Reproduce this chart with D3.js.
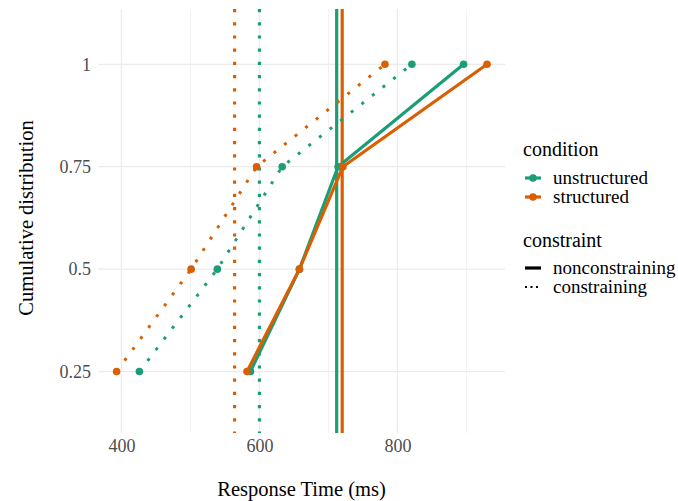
<!DOCTYPE html>
<html>
<head>
<meta charset="utf-8">
<script src="https://cdn.jsdelivr.net/npm/d3@7"></script>
<style>
  body { margin: 0; background: #fff; }
</style>
</head>
<body>
<div id="chart"></div>
<script>
// cumulative quantiles on the y axis
const quantiles = [0.25, 0.5, 0.75, 1];
const conditions = ["unstructured", "structured"];
const constraints = ["nonconstraining", "constraining"];

// response time (ms) at each quantile
const unstructuredNonconstraining = [587, 658, 714, 896];
const structuredNonconstraining = [582, 658, 721, 930];
const unstructuredConstraining = [426, 539, 633, 821];
const structuredConstraining = [393, 501, 596, 782];

// mean response time per group (vertical lines)
const meanUnstructured = [712, 600];   // nonconstraining, constraining
const meanStructured = [720, 564];

const xTicks = [400, 600, 800];
const xMinor = [500, 700, 900];
const yTicks = [0.25, 0.5, 0.75, 1];
const yTickLabels = ["0.25", "0.5", "0.75", "1"];

const colors = { unstructured: "#1B9E77", structured: "#D95F02" };
const serif = '"Liberation Serif", "DejaVu Serif", serif';

const width = 678, height = 501;
const panel = { left: 98, right: 505, top: 9, bottom: 433 };

const svg = d3.select("#chart")
    .append("svg")
    .attr("width", width)
    .attr("height", height);

const x = d3.scaleLinear().domain([366, 956]).range([panel.left, panel.right]);
const y = d3.scaleLinear().domain([0.1, 1.135]).range([panel.bottom, panel.top]);

// grid
svg.append("g").selectAll("line")
    .data(xMinor)
    .enter().append("line")
    .attr("x1", d => x(d)).attr("x2", d => x(d))
    .attr("y1", panel.top).attr("y2", panel.bottom)
    .attr("stroke", "#f0f0f0").attr("stroke-width", 1);

svg.append("g").selectAll("line")
    .data(xTicks)
    .enter().append("line")
    .attr("x1", d => x(d)).attr("x2", d => x(d))
    .attr("y1", panel.top).attr("y2", panel.bottom)
    .attr("stroke", "#ebebeb").attr("stroke-width", 1.2);

svg.append("g").selectAll("line")
    .data(yTicks)
    .enter().append("line")
    .attr("x1", panel.left).attr("x2", panel.right)
    .attr("y1", d => y(d)).attr("y2", d => y(d))
    .attr("stroke", "#ebebeb").attr("stroke-width", 1.2);

// axes labels
const xAxis = svg.append("g")
    .attr("transform", `translate(0, ${panel.bottom})`)
    .call(d3.axisBottom(x).tickValues(xTicks).tickSize(0).tickPadding(0));
xAxis.select(".domain").remove();
xAxis.selectAll("text")
    .attr("y", 19)
    .attr("dy", 0)
    .style("font-size", "18px")
    .style("font-family", serif)
    .attr("fill", "#4d4d4d");

const yAxis = svg.append("g")
    .attr("transform", `translate(${panel.left}, 0)`)
    .call(d3.axisLeft(y).tickValues(yTicks).tickFormat((d, i) => yTickLabels[i]).tickSize(0).tickPadding(0));
yAxis.select(".domain").remove();
yAxis.selectAll("text")
    .attr("x", -7)
    .style("font-size", "18px")
    .style("font-family", serif)
    .attr("fill", "#4d4d4d");

svg.append("text")
    .attr("x", (panel.left + panel.right) / 2)
    .attr("y", 496)
    .attr("text-anchor", "middle")
    .style("font-size", "20.5px")
    .style("font-family", serif)
    .attr("fill", "#000")
    .text("Response Time (ms)");

svg.append("text")
    .attr("transform", "rotate(-90)")
    .attr("x", -218)
    .attr("y", 33)
    .attr("text-anchor", "middle")
    .style("font-size", "20.5px")
    .style("font-family", serif)
    .attr("fill", "#000")
    .text("Cumulative distribution");

// series
const series = [
    { condition: "unstructured", constraint: "nonconstraining", values: unstructuredNonconstraining, mean: meanUnstructured[0] },
    { condition: "structured", constraint: "nonconstraining", values: structuredNonconstraining, mean: meanStructured[0] },
    { condition: "unstructured", constraint: "constraining", values: unstructuredConstraining, mean: meanUnstructured[1] },
    { condition: "structured", constraint: "constraining", values: structuredConstraining, mean: meanStructured[1] }
];

// mean lines
svg.append("g").selectAll("line")
    .data(series)
    .enter().append("line")
    .attr("x1", d => x(d.mean)).attr("x2", d => x(d.mean))
    .attr("y1", panel.top).attr("y2", panel.bottom)
    .attr("stroke", d => colors[d.condition])
    .attr("stroke-width", 3.2)
    .attr("stroke-dasharray", d => d.constraint === "constraining" ? "3.2,10" : null);

const line = d3.line()
    .x(d => x(d.rt))
    .y(d => y(d.q));

svg.append("g").selectAll("path")
    .data(series)
    .enter().append("path")
    .attr("d", d => line(d.values.map((v, i) => ({ rt: v, q: quantiles[i] }))))
    .attr("fill", "none")
    .attr("stroke", d => colors[d.condition])
    .attr("stroke-width", d => d.constraint === "constraining" ? 3 : 3.2)
    .attr("stroke-dasharray", d => d.constraint === "constraining" ? "3,10.5" : null);

svg.append("g").selectAll("circle")
    .data(series.flatMap(s => s.values.map((v, i) => ({ rt: v, q: quantiles[i], condition: s.condition }))))
    .enter().append("circle")
    .attr("cx", d => x(d.rt))
    .attr("cy", d => y(d.q))
    .attr("r", 3.8)
    .attr("fill", d => colors[d.condition]);

// legend
const legend = svg.append("g").style("font-family", serif);

legend.append("text")
    .attr("x", 523).attr("y", 156)
    .style("font-size", "20px")
    .style("font-family", serif)
    .text("condition");

conditions.forEach((c, i) => {
    const ky = 178 + i * 19;
    legend.append("line")
        .attr("x1", 525).attr("x2", 541)
        .attr("y1", ky).attr("y2", ky)
        .attr("stroke", colors[c]).attr("stroke-width", 3.2);
    legend.append("circle")
        .attr("cx", 533).attr("cy", ky).attr("r", 3.8)
        .attr("fill", colors[c]);
    legend.append("text")
        .attr("x", 553).attr("y", ky + 6)
        .style("font-size", "19px")
        .style("font-family", serif)
        .text(c);
});

legend.append("text")
    .attr("x", 523).attr("y", 247)
    .style("font-size", "20px")
    .style("font-family", serif)
    .text("constraint");

constraints.forEach((c, i) => {
    const ky = 268 + i * 19;
    legend.append("line")
        .attr("x1", 525).attr("x2", 541)
        .attr("y1", ky).attr("y2", ky)
        .attr("stroke", "#000")
        .attr("stroke-width", c === "constraining" ? 2 : 3.2)
        .attr("stroke-dasharray", c === "constraining" ? "2,3.5" : null);
    legend.append("text")
        .attr("x", 553).attr("y", ky + 6)
        .style("font-size", "19px")
        .style("font-family", serif)
        .text(c);
});
</script>
</body>
</html>
